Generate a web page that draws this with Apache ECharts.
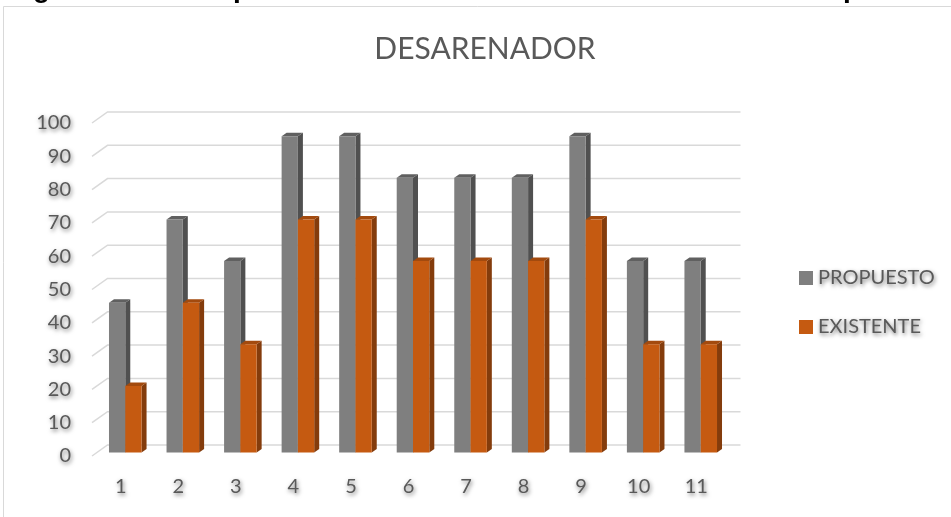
<!DOCTYPE html>
<html>
<head>
<meta charset="utf-8">
<style>
  html, body { margin: 0; padding: 0; background: #ffffff; }
  #chart { width: 951px; height: 517px; }
</style>
<script src="https://cdn.jsdelivr.net/npm/echarts@6/dist/echarts.min.js"></script>
</head>
<body>
<div id="chart"></div>
<script>
// Categories along the x axis
const categories = ['1', '2', '3', '4', '5', '6', '7', '8', '9', '10', '11'];
// Series values
const propuesto = [45, 70, 57.5, 95, 95, 82.5, 82.5, 82.5, 95, 57.5, 57.5];
const existente = [20, 45, 32.5, 70, 70, 57.5, 57.5, 57.5, 70, 32.5, 32.5];
// Value-axis ticks drawn on the back wall
const yTicks = [0, 10, 20, 30, 40, 50, 60, 70, 80, 90, 100];

const FONT = 'Lato, "Open Sans", sans-serif';
const LABEL_COLOR = '#595959';

// 3D look: offset from front plane to back wall, and bar depth
const WALL_DX = 15.5, WALL_DY = -11;
const BAR_FRONT_DX = 4.5, BAR_FRONT_DY = -3.5;
const BAR_DEPTH_DX = 5, BAR_DEPTH_DY = -3.5;
const BAR_FRAC = 0.283;

const palettes = [
  { front: '#7f7f7f', side: '#505050', top: '#606060' },
  { front: '#c55a11', side: '#843c0c', top: '#a34a0e' }
];

function barRenderer(seriesIdx) {
  const pal = palettes[seriesIdx];
  return function (params, api) {
    const idx = api.value(0);
    const val = api.value(1);
    const base = api.coord([idx, 0]);
    const top = api.coord([idx, val]);
    const band = api.size([1, 0])[0];
    const w = band * BAR_FRAC;
    const x = base[0] + BAR_FRONT_DX + (seriesIdx === 0 ? -w : 0);
    const yb = base[1] + BAR_FRONT_DY;
    const yt = top[1] + BAR_FRONT_DY;
    const dx = BAR_DEPTH_DX, dy = BAR_DEPTH_DY;
    return {
      type: 'group',
      children: [
        {
          type: 'polygon',
          shape: { points: [[x + w, yt], [x + w + dx, yt + dy], [x + w + dx, yb + dy], [x + w, yb]] },
          style: { fill: pal.side }
        },
        {
          type: 'polygon',
          shape: { points: [[x, yt], [x + dx, yt + dy], [x + w + dx, yt + dy], [x + w, yt]] },
          style: { fill: pal.top }
        },
        {
          type: 'rect',
          shape: { x: x, y: yt, width: w, height: yb - yt },
          style: { fill: pal.front }
        }
      ]
    };
  };
}

function wallRenderer(params, api) {
  const cs = params.coordSys;
  const y = api.coord([0, api.value(1)])[1];
  const x0 = cs.x, x1 = cs.x + cs.width;
  return {
    type: 'polyline',
    shape: { points: [[x0, y], [x0 + WALL_DX, y + WALL_DY], [x1 + WALL_DX, y + WALL_DY]] },
    style: { stroke: '#d9d9d9', lineWidth: 1.5, fill: null }
  };
}

const labelShadow = {
  textShadowColor: 'rgba(0,0,0,0.55)',
  textShadowBlur: 4,
  textShadowOffsetX: 1,
  textShadowOffsetY: 2
};

const chart = echarts.init(document.getElementById('chart'), null, { renderer: 'canvas' });

chart.setOption({
  animation: false,
  backgroundColor: '#ffffff',
  graphic: [
    {
      type: 'rect',
      shape: { x: 3.5, y: 6.5, width: 1000, height: 600 },
      style: { fill: null, stroke: '#d9d9d9', lineWidth: 1 },
      z: -10
    },
    { type: 'text', x: 33, y: -10.5, style: { text: 'g', font: 'bold 28px "Liberation Sans", Arial, sans-serif', fill: '#000', verticalAlign: 'middle' } },
    { type: 'text', x: 233, y: -10.5, style: { text: 'p', font: 'bold 28px "Liberation Sans", Arial, sans-serif', fill: '#000', verticalAlign: 'middle' } },
    { type: 'text', x: 843, y: -10.5, style: { text: 'p', font: 'bold 28px "Liberation Sans", Arial, sans-serif', fill: '#000', verticalAlign: 'middle' } },
    {
      type: 'text', x: 485, y: 49,
      style: {
        text: 'DESARENADOR', font: '30px ' + FONT, fill: LABEL_COLOR,
        align: 'center', verticalAlign: 'middle',
        shadowColor: 'rgba(0,0,0,0.55)', shadowBlur: 4, shadowOffsetX: 1, shadowOffsetY: 2
      }
    }
  ],
  legend: {
    orient: 'vertical',
    left: 794,
    top: 263,
    itemWidth: 14,
    itemHeight: 14,
    itemGap: 29,
    icon: 'rect',
    data: ['PROPUESTO', 'EXISTENTE'],
    textStyle: Object.assign({ color: LABEL_COLOR, fontSize: 20, fontFamily: FONT }, labelShadow)
  },
  grid: { left: 92, top: 123, width: 633, height: 333, containLabel: false },
  xAxis: {
    type: 'category',
    data: categories,
    axisLine: { show: false },
    axisTick: { show: false },
    splitLine: { show: false },
    axisLabel: Object.assign({ color: LABEL_COLOR, fontSize: 20, fontFamily: FONT, margin: 21 }, labelShadow)
  },
  yAxis: {
    type: 'value',
    min: 0,
    max: 100,
    interval: 10,
    axisLine: { show: false },
    axisTick: { show: false },
    splitLine: { show: false },
    axisLabel: Object.assign({ color: LABEL_COLOR, fontSize: 20, fontFamily: FONT, margin: 21 }, labelShadow)
  },
  series: [
    {
      name: 'wall',
      type: 'custom',
      renderItem: wallRenderer,
      data: yTicks.map(v => [0, v]),
      silent: true,
      z: 1
    },
    {
      name: 'PROPUESTO',
      type: 'custom',
      renderItem: barRenderer(0),
      itemStyle: { color: palettes[0].front },
      data: propuesto.map((v, i) => [i, v]),
      z: 2
    },
    {
      name: 'EXISTENTE',
      type: 'custom',
      renderItem: barRenderer(1),
      itemStyle: { color: palettes[1].front },
      data: existente.map((v, i) => [i, v]),
      z: 3
    }
  ]
});
</script>
</body>
</html>
